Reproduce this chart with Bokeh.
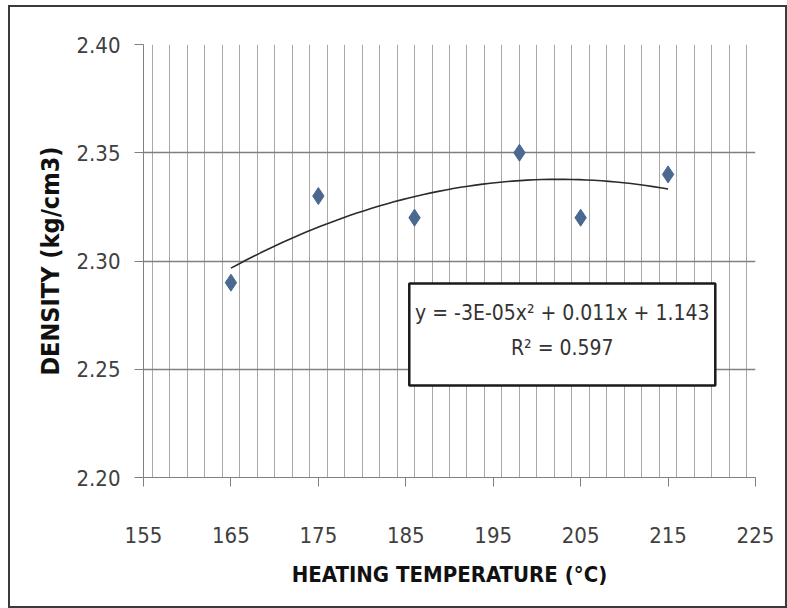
import numpy as np
from bokeh.plotting import figure
from bokeh.models import (ColumnDataSource, SingleIntervalTicker, FixedTicker,
                          BoxAnnotation, Label, Range1d, PrintfTickFormatter)
from bokeh.embed import file_html
from bokeh.resources import INLINE

# ---- data ----
temperature = [165, 175, 186, 198, 205, 215]
density = [2.29, 2.33, 2.32, 2.35, 2.32, 2.34]
x_ticks = [155, 165, 175, 185, 195, 205, 215, 225]
y_ticks = [2.20, 2.25, 2.30, 2.35, 2.40]
equation_text = "y = -3E-05x² + 0.011x + 1.143"
r2_text = "R² = 0.597"

# polynomial (order 2) trendline fitted to the data
coef = np.polyfit(temperature, density, 2)
tx = np.linspace(min(temperature), max(temperature), 60)
ty = np.polyval(coef, tx)

FONT = "'DejaVu Sans Condensed', 'Liberation Sans', sans-serif"

p = figure(width=779, height=603, output_backend="svg", toolbar_location=None,
           x_range=Range1d(155, 225), y_range=Range1d(2.20, 2.40),
           min_border_left=133, min_border_top=37, min_border_right=30,
           min_border_bottom=129, frame_width=612, frame_height=433)
p.styles = {"border": "2px solid #3a3a3a", "margin-left": "8px",
            "margin-top": "5px", "box-sizing": "border-box"}
p.background_fill_color = "white"
p.border_fill_color = "white"
p.outline_line_color = None

# grid
p.xgrid.ticker = SingleIntervalTicker(interval=2)
p.xgrid.grid_line_color = "#a8a8a8"
p.xgrid.grid_line_width = 1
p.ygrid.ticker = FixedTicker(ticks=y_ticks)
p.ygrid.grid_line_color = "#808080"
p.ygrid.grid_line_width = 1.4

# axes
p.xaxis.ticker = FixedTicker(ticks=x_ticks)
p.yaxis.ticker = FixedTicker(ticks=y_ticks)
p.yaxis.formatter = PrintfTickFormatter(format="%.2f")
for ax in (p.xaxis, p.yaxis):
    ax.axis_line_color = "#808080"
    ax.major_tick_line_color = "#808080"
    ax.minor_tick_line_color = None
    ax.major_tick_in = 0
    ax.major_tick_out = 9
    ax.major_label_text_font = FONT
    ax.major_label_text_font_size = "22px"
    ax.major_label_text_color = "#404040"
    ax.axis_label_text_font = FONT
    ax.axis_label_text_font_style = "bold"
    ax.axis_label_text_color = "#111111"
p.xaxis.major_label_standoff = 40
p.yaxis.major_label_standoff = 14
p.xaxis.axis_label = "HEATING TEMPERATURE (°C)"
p.yaxis.axis_label = "DENSITY (kg/cm3)"
p.xaxis.axis_label_text_font_size = "22px"
p.yaxis.axis_label_text_font_size = "25px"
p.xaxis.axis_label_standoff = 16
p.yaxis.axis_label_standoff = 8

# trendline and points
p.line(tx, ty, line_color="#2b2b2b", line_width=1.6)
src = ColumnDataSource(dict(x=temperature, y=density))
p.scatter("x", "y", source=src, marker="diamond", size=17,
          fill_color="#4a6890", line_color="#4a6890")

# equation box
box = BoxAnnotation(left=185.4, right=220.4, top=2.2896, bottom=2.2425,
                    fill_color="white", fill_alpha=1.0,
                    line_color="#1a1a1a", line_alpha=1.0, line_width=2.5,
                    level="overlay")
p.add_layout(box)
p.add_layout(Label(x=202.9, y=2.2762, text=equation_text, text_align="center",
                   text_baseline="middle", text_font=FONT,
                   text_font_size="21px", text_color="#333333", level="overlay"))
p.add_layout(Label(x=202.9, y=2.2596, text=r2_text, text_align="center",
                   text_baseline="middle", text_font=FONT,
                   text_font_size="21px", text_color="#333333", level="overlay"))

open("out.html", "w").write(file_html(p, INLINE))
